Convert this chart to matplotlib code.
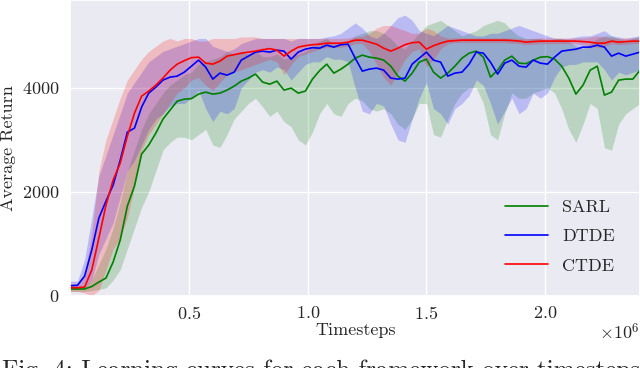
import numpy as np
import matplotlib
matplotlib.use("Agg")
import matplotlib.pyplot as plt
import seaborn as sns

# %%
# timesteps sampled every 30k steps
timesteps = np.arange(81) * 30000

sarl_mean = [129, 129, 129, 177, 263, 340, 648, 1071, 1725, 2110,
             2725, 2898, 3129, 3398, 3571, 3744, 3782, 3792, 3879, 3917,
             3879, 3898, 3956, 4033, 4129, 4187, 4264, 4110, 4071, 4129,
             3956, 3994, 3898, 3937, 4168, 4331, 4456, 4283, 4360, 4456,
             4571, 4629, 4590, 4571, 4533, 4417, 4225, 4129, 4283, 4494,
             4552, 4302, 4187, 4283, 4417, 4571, 4667, 4706, 4590, 4206,
             4340, 4533, 4610, 4475, 4465, 4533, 4590, 4600, 4552, 4417,
             4187, 3879, 4052, 4340, 4417, 3860, 3917, 4148, 4168, 4168,
             4340]
sarl_lo = [80, 80, 80, 100, 120, 150, 300, 500, 900, 1300,
           1700, 2000, 2400, 2800, 2950, 3050, 3050, 3000, 3100, 3200,
           2900, 2850, 3100, 3400, 3550, 3700, 3800, 3630, 3450, 3550,
           3350, 3250, 3000, 2900, 3150, 3500, 3700, 3500, 3450, 3700,
           3800, 3750, 3600, 3550, 3600, 3500, 3300, 3200, 3400, 3700,
           3700, 3100, 3050, 3400, 3700, 3900, 4000, 4000, 3700, 3100,
           3000, 3500, 3900, 3800, 3800, 3900, 3950, 4000, 3900, 3600,
           3200, 2950, 3300, 3700, 3600, 2850, 2800, 3300, 3500, 3600,
           3700]
sarl_hi = [180, 180, 180, 300, 600, 900, 1300, 1800, 2400, 2800,
           3200, 3500, 3700, 3900, 4050, 4150, 4250, 4300, 4450, 4500,
           4550, 4600, 4700, 4650, 4700, 4650, 4700, 4600, 4600, 4650,
           4550, 4600, 4650, 4700, 4800, 4900, 4950, 4850, 4850, 4900,
           5000, 5050, 5100, 5100, 5050, 4950, 4800, 4750, 4900, 5050,
           5200, 5250, 5300, 5200, 5100, 5000, 5050, 5100, 5200, 5250,
           5300, 5250, 5100, 5000, 4950, 4950, 4950, 4900, 4950, 4950,
           4900, 4800, 4750, 4850, 4950, 5000, 5000, 4950, 4900, 4950,
           5000]

dtde_mean = [192, 200, 379, 879, 1494, 1821, 2129, 2610, 3148, 3225,
             3629, 3898, 4014, 4149, 4206, 4225, 4302, 4417, 4533, 4398,
             4168, 4283, 4244, 4302, 4533, 4610, 4687, 4706, 4687, 4725,
             4706, 4552, 4687, 4744, 4773, 4763, 4821, 4783, 4830, 4840,
             4571, 4321, 4360, 4379, 4340, 4187, 4168, 4187, 4456, 4571,
             4687, 4533, 4494, 4225, 4283, 4302, 4456, 4687, 4667, 4494,
             4264, 4475, 4533, 4417, 4398, 4533, 4475, 4456, 4590, 4706,
             4725, 4744, 4783, 4783, 4821, 4783, 4610, 4667, 4610, 4648,
             4687]
dtde_lo = [120, 120, 150, 300, 800, 1100, 1400, 1900, 2400, 2600,
           2900, 3200, 3400, 3500, 3650, 3700, 3700, 3800, 3950, 3600,
           3350, 3550, 3500, 3600, 4000, 4150, 4300, 4350, 4300, 4400,
           4350, 4150, 4300, 4450, 4500, 4500, 4600, 4550, 4550, 4500,
           4000, 3550, 3500, 3700, 3650, 3300, 3000, 2950, 3400, 3800,
           4100, 3600, 3500, 3300, 3600, 3700, 3850, 4150, 4050, 3700,
           3300, 3550, 3800, 3500, 3600, 3900, 3800, 3900, 4200, 4400,
           4450, 4450, 4500, 4500, 4500, 4350, 4150, 4300, 4250, 4300,
           4350]
dtde_hi = [280, 280, 700, 1500, 2300, 2700, 3100, 3500, 3900, 4100,
           4300, 4500, 4600, 4700, 4750, 4800, 4850, 4900, 4950, 4950,
           4800, 4750, 4700, 4750, 4850, 4900, 4950, 4950, 4950, 4950,
           4950, 4900, 4950, 4950, 4950, 4950, 4980, 5000, 5050, 5150,
           5250, 5150, 5000, 4950, 5050, 5200, 5350, 5400, 5300, 5100,
           5050, 5000, 5100, 5200, 5150, 5100, 5050, 5000, 5000, 5050,
           5050, 5100, 5150, 5200, 5150, 5100, 5050, 5000, 4950, 4950,
           4950, 4980, 5000, 5000, 5050, 5100, 5000, 4980, 4950, 4980,
           5000]

ctde_mean = [154, 154, 167, 494, 1110, 1744, 2225, 2552, 3071, 3513,
             3840, 3937, 4052, 4187, 4340, 4456, 4523, 4581, 4590, 4475,
             4456, 4514, 4610, 4638, 4667, 4687, 4706, 4735, 4754, 4725,
             4610, 4706, 4783, 4811, 4830, 4840, 4859, 4859, 4859, 4879,
             4917, 4917, 4879, 4840, 4763, 4706, 4763, 4830, 4869, 4879,
             4744, 4811, 4859, 4898, 4908, 4917, 4917, 4917, 4917, 4917,
             4917, 4917, 4910, 4900, 4879, 4890, 4898, 4900, 4900, 4898,
             4900, 4898, 4890, 4879, 4859, 4859, 4898, 4879, 4890, 4898,
             4898]
ctde_lo = [80, 80, 50, 0, 100, 500, 900, 1100, 1500, 2100,
           2800, 3100, 3300, 3500, 3700, 3900, 4000, 4150, 4200, 4050,
           3950, 4100, 4250, 4300, 4350, 4400, 4450, 4500, 4550, 4500,
           4250, 4450, 4600, 4650, 4700, 4750, 4780, 4780, 4780, 4800,
           4850, 4850, 4700, 4450, 4200, 4050, 4300, 4550, 4700, 4750,
           4400, 4550, 4750, 4850, 4870, 4870, 4870, 4870, 4870, 4870,
           4870, 4870, 4860, 4850, 4830, 4840, 4850, 4850, 4850, 4850,
           4850, 4850, 4830, 4800, 4780, 4790, 4850, 4830, 4840, 4850,
           4850]
ctde_hi = [230, 230, 400, 1200, 2400, 3000, 3400, 3800, 4150, 4350,
           4550, 4700, 4800, 4900, 4950, 4900, 4950, 4950, 4900, 4900,
           4950, 4950, 4950, 4950, 4980, 4980, 4980, 4950, 4950, 4950,
           4950, 4950, 4950, 4950, 4950, 4950, 4950, 4950, 4950, 4960,
           4980, 4990, 5050, 5150, 5200, 5200, 5150, 5100, 5050, 5050,
           5150, 5100, 5000, 4960, 4960, 4960, 4960, 4960, 4960, 4960,
           4960, 4960, 4960, 4950, 4940, 4950, 4960, 4960, 4960, 4960,
           4960, 4960, 4960, 4980, 5000, 4980, 4960, 4950, 4960, 4960,
           4960]

# %%
sns.set_theme(style="darkgrid")
plt.rcParams['font.family'] = ['cmr10', 'DejaVu Serif']
plt.rcParams['mathtext.fontset'] = 'cm'
plt.rcParams['axes.formatter.use_mathtext'] = True

fig = plt.figure(figsize=(6.4, 3.68), dpi=100)
ax = fig.add_axes([0.110, 0.1965, 0.890, 0.8035])

runs = [
    ('SARL', sarl_mean, sarl_lo, sarl_hi, 'green'),
    ('DTDE', dtde_mean, dtde_lo, dtde_hi, 'blue'),
    ('CTDE', ctde_mean, ctde_lo, ctde_hi, 'red'),
]
for name, mean, lo, hi, col in runs:
    ax.fill_between(timesteps, lo, hi, color=col, alpha=0.2, lw=0)
for name, mean, lo, hi, col in runs:
    ax.plot(timesteps, mean, color=col, lw=1.2, label=name)

ax.set_xlim(0, 2.4e6)
ax.set_ylim(0, 5690)
ax.set_xticks([0.5e6, 1.0e6, 1.5e6, 2.0e6])
ax.set_yticks([0, 2000, 4000])
ax.tick_params(labelsize=13)
ax.tick_params(axis='x', pad=0.5)
ax.tick_params(axis='y', pad=2)
ax.xaxis.get_offset_text().set_visible(False)
ax.text(1.0, -0.09, r'$\times10^{6}$', transform=ax.transAxes,
        ha='right', va='top', fontsize=13)
ax.set_xlabel("Timesteps", fontsize=13, labelpad=1)
ax.set_ylabel("Average Return", fontsize=13)
ax.legend(loc='lower right', frameon=False, fontsize=13,
          handlelength=2.4, labelspacing=0.75, bbox_to_anchor=(0.985, 0.02))

fig.text(0.003, 1 - 359 / 368, "Fig. 4: Learning curves for each framework over timesteps",
         fontsize=18, va='top', ha='left')

fig.savefig('out.png', dpi=100)
